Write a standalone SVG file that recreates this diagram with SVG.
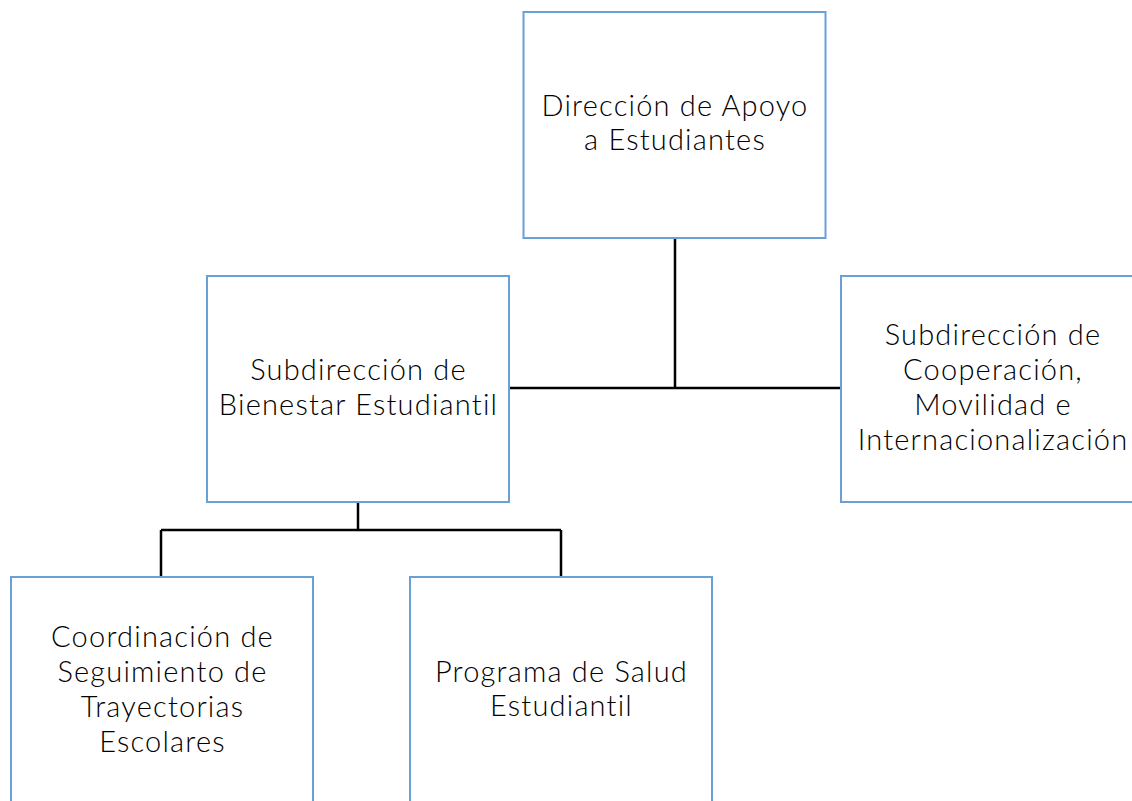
<svg xmlns="http://www.w3.org/2000/svg" width="1132" height="801" viewBox="0 0 1132 801">
<style>
.box{fill:#fff;stroke:#6a9fd8;stroke-width:2}
.t{font-family:Lato,"Open Sans",sans-serif;font-size:29px;font-weight:300;letter-spacing:1.2px;fill:#000;text-anchor:middle}
.c{fill:none;stroke:#000;stroke-width:2.5}
</style>
<rect width="1132" height="801" fill="#fff"/>
<g id="connectors">
<path class="c" d="M675 238V388M509 388H841"/>
<path class="c" d="M358 502V530M161 530H561M161 530V577M561 530V577"/>
</g>
<g id="n1"><rect class="box" x="523.5" y="12" width="302" height="226"/>
<text class="t" x="675" y="116">Dirección de Apoyo<tspan x="675" dy="34">a Estudiantes</tspan></text></g>
<g id="n2"><rect class="box" x="207" y="276" width="302" height="226"/>
<text class="t" x="358.5" y="380">Subdirección de<tspan x="358.5" dy="35">Bienestar Estudiantil</tspan></text></g>
<g id="n3"><rect class="box" x="841" y="276" width="303" height="226"/>
<text class="t" x="993" y="345">Subdirección de<tspan x="993" dy="35">Cooperación,</tspan><tspan x="993" dy="35">Movilidad e</tspan><tspan x="993" dy="35">Internacionalización</tspan></text></g>
<g id="n4"><rect class="box" x="11" y="577" width="302" height="226"/>
<text class="t" x="162.5" y="647">Coordinación de<tspan x="162.5" dy="35">Seguimiento de</tspan><tspan x="162.5" dy="35">Trayectorias</tspan><tspan x="162.5" dy="35">Escolares</tspan></text></g>
<g id="n5"><rect class="box" x="410" y="577" width="302" height="226"/>
<text class="t" x="561.5" y="682">Programa de Salud<tspan x="561.5" dy="34">Estudiantil</tspan></text></g>
</svg>
